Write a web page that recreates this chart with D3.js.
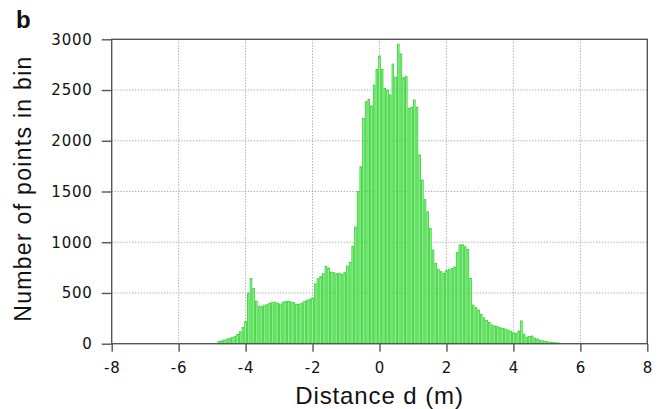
<!DOCTYPE html>
<html>
<head>
<meta charset="utf-8">
<script src="https://cdn.jsdelivr.net/npm/d3@7"></script>
<style>
  body { margin: 0; background: #fff; }
</style>
</head>
<body>
<script>
const w = 669;
const h = 409;

// histogram: left edge of first bin, bin width (m), counts per bin
const binStart = -4.84;
const binWidth = 0.08;
const counts = [
  20, 28, 36, 45, 52, 60, 70, 90, 118, 160,
  217, 497, 644, 546, 420, 370, 365, 380, 385, 400,
  405, 410, 400, 390, 410, 415, 415, 410, 405, 390,
  390, 400, 415, 430, 438, 450, 590, 640, 660, 690,
  760, 745, 705, 700, 690, 695, 685, 700, 765, 800,
  960, 1150, 1500, 1744, 2221, 2385, 2408, 2343, 2549, 2704,
  2835, 2704, 2517, 2500, 2451, 2756, 2625, 2953, 2855, 2622,
  2632, 2320, 2330, 2402, 2330, 1860, 1613, 1420, 1300, 1137,
  923, 792, 730, 710, 694, 720, 730, 740, 755, 900,
  973, 975, 956, 930, 644, 381, 358, 332, 290, 255,
  230, 210, 185, 175, 168, 158, 150, 145, 135, 122,
  108, 102, 125, 225, 95, 65, 70, 76, 55, 45,
  35, 28, 22, 18, 14, 11, 9, 7
];

const xTicks = [-8, -6, -4, -2, 0, 2, 4, 6, 8];
const yTicks = [0, 500, 1000, 1500, 2000, 2500, 3000];

const panelLabel = "b";
const xTitle = "Distance d (m)";
const yTitle = "Number of points in bin";

// plot box
const plotL = 111.7, plotR = 647.3, plotT = 39.3, plotB = 343.7;

const svg = d3.select("body")
    .append("svg")
    .attr("width", w)
    .attr("height", h);

const xScale = d3.scaleLinear().domain([-8, 8]).range([plotL, plotR]);
const yScale = d3.scaleLinear().domain([0, 3000]).range([plotB, plotT]);

// dotted grid
svg.append("g")
    .selectAll("line")
    .data(xTicks.slice(1, -1))
    .enter()
    .append("line")
    .attr("x1", d => xScale(d)).attr("x2", d => xScale(d))
    .attr("y1", plotT).attr("y2", plotB)
    .attr("stroke", "#aaa")
    .attr("stroke-width", 1)
    .attr("stroke-dasharray", "1.3,1.6");

svg.append("g")
    .selectAll("line")
    .data(yTicks.slice(1, -1))
    .enter()
    .append("line")
    .attr("x1", plotL).attr("x2", plotR)
    .attr("y1", d => yScale(d)).attr("y2", d => yScale(d))
    .attr("stroke", "#aaa")
    .attr("stroke-width", 1)
    .attr("stroke-dasharray", "1.3,1.6");

// bars
const binPx = xScale(binWidth) - xScale(0);
svg.append("g")
    .selectAll("rect")
    .data(counts)
    .enter()
    .append("rect")
    .attr("x", (d, i) => xScale(binStart + i * binWidth) + 0.5)
    .attr("width", binPx - 1.0)
    .attr("y", d => yScale(d))
    .attr("height", d => yScale(0) - yScale(d))
    .attr("fill", "#a2eea2")
    .attr("stroke", "#2fd42f")
    .attr("stroke-width", 0.8);

// frame
svg.append("rect")
    .attr("x", plotL).attr("y", plotT)
    .attr("width", plotR - plotL).attr("height", plotB - plotT)
    .attr("fill", "none")
    .attr("stroke", "#555")
    .attr("stroke-width", 1.4);

const fmt = d => d < 0 ? "-" + Math.abs(d) : String(d);

const xAxis = d3.axisBottom(xScale)
    .tickValues(xTicks)
    .tickSize(8)
    .tickPadding(11)
    .tickFormat(fmt);

const yAxis = d3.axisLeft(yScale)
    .tickValues(yTicks)
    .tickSize(10)
    .tickPadding(9)
    .tickFormat(fmt);

const gx = svg.append("g")
    .attr("transform", `translate(0, ${plotB})`)
    .call(xAxis);

const gy = svg.append("g")
    .attr("transform", `translate(${plotL}, 0)`)
    .call(yAxis);

[gx, gy].forEach(g => {
    g.select(".domain").remove();
    g.selectAll(".tick line").attr("stroke", "#555").attr("stroke-width", 1.4);
    g.selectAll(".tick text")
        .attr("fill", "#111")
        .style("font-family", "'DejaVu Sans', Verdana, sans-serif")
        .style("font-size", "15px")
        .style("letter-spacing", "0.8px");
});

// titles
svg.append("text")
    .attr("x", (plotL + plotR) / 2)
    .attr("y", 404)
    .attr("text-anchor", "middle")
    .style("font-family", "'Liberation Sans', Arial, sans-serif")
    .style("font-size", "24px")
    .style("letter-spacing", "0.9px")
    .attr("fill", "#111")
    .text(xTitle);

svg.append("text")
    .attr("transform", `translate(31, ${(plotT + plotB) / 2 - 3}) rotate(-90)`)
    .attr("text-anchor", "middle")
    .style("font-family", "'Liberation Sans', Arial, sans-serif")
    .style("font-size", "23px")
    .style("letter-spacing", "1.3px")
    .attr("fill", "#111")
    .text(yTitle);

svg.append("text")
    .attr("x", 16)
    .attr("y", 28)
    .style("font-family", "'Liberation Sans', Arial, sans-serif")
    .style("font-size", "24px")
    .style("font-weight", "bold")
    .attr("fill", "#111")
    .text(panelLabel);
</script>
</body>
</html>
